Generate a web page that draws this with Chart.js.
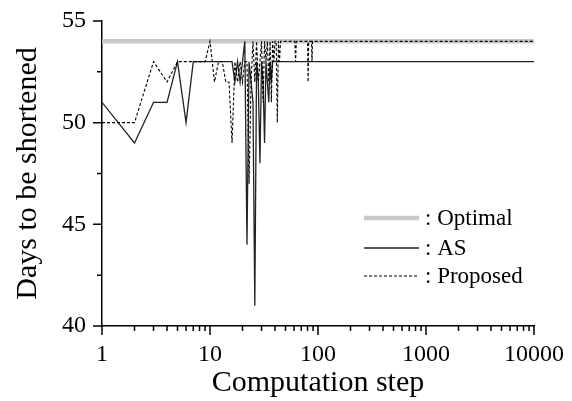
<!DOCTYPE html>
<html>
<head>
<meta charset="utf-8">
<script src="https://cdn.jsdelivr.net/npm/chart.js@4/dist/chart.umd.min.js"></script>
<style>
  html, body { margin: 0; padding: 0; background: #fff; }
  #wrap { width: 572px; height: 401px; }
</style>
</head>
<body>
<div id="wrap"><canvas id="chart"></canvas></div>
<script>
// Computation step (log x) vs days to be shortened
const optSteps = [1, 10000];
const optDays = [54, 54];

const asSteps = [1, 2, 3, 4, 5, 6, 7, 16, 17, 18, 19, 20, 21, 22, 23, 24, 25, 26, 27, 28, 29, 30, 31, 32, 33, 34, 35, 36, 37, 38, 10000];
const asDays  = [51, 49, 51, 51, 53, 50, 53, 53, 52, 53, 52, 53, 54, 44, 53, 52, 51, 41, 53, 52, 48, 53, 52, 49, 53, 52, 51, 53, 52, 53, 53];

const propSteps = [1, 2, 3, 4, 5, 9, 10, 11, 12, 13, 14, 15, 16, 17, 18, 19, 20, 21, 22, 23, 24, 25, 26, 27, 28, 29, 30, 31, 32, 33, 34, 35, 36, 37, 38, 39, 40, 41, 42, 43, 44, 45, 61, 62, 63, 80, 81, 82, 87, 88, 89, 10000];
const propDays  = [50, 50, 53, 52, 53, 53, 54, 52, 53, 53, 52, 52, 49, 53, 52, 53, 52, 53, 53, 47, 52, 54, 52, 54, 52, 53, 54, 51, 54, 53, 54, 52, 54, 51, 54, 53, 54, 54, 50, 54, 53, 54, 54, 53, 54, 54, 52, 54, 54, 53, 54, 54];

const xTicks = [1, 10, 100, 1000, 10000];
const yTicks = [40, 45, 50, 55];
const yMinorTicks = [42.5, 47.5, 52.5];
const legendLabels = [": Optimal", ": AS", ": Proposed"];

const FONT = "'Liberation Serif', 'Times New Roman', serif";

function toPoints(xs, ys) {
    return xs.map((x, i) => ({ x: x, y: ys[i] }));
}

// tick marks drawn outward, majors longer than minors
const tickPlugin = {
    id: "tickMarks",
    afterDraw(chart) {
        const ctx = chart.ctx;
        const xs = chart.scales.x;
        const ys = chart.scales.y;
        const area = chart.chartArea;
        ctx.save();
        ctx.strokeStyle = "#000";
        ctx.lineWidth = 1.5;
        ctx.beginPath();
        yTicks.forEach(v => {
            const py = ys.getPixelForValue(v);
            ctx.moveTo(area.left - 9, py);
            ctx.lineTo(area.left, py);
        });
        yMinorTicks.forEach(v => {
            const py = ys.getPixelForValue(v);
            ctx.moveTo(area.left - 5, py);
            ctx.lineTo(area.left, py);
        });
        xTicks.forEach(v => {
            const px = xs.getPixelForValue(v);
            ctx.moveTo(px, area.bottom);
            ctx.lineTo(px, area.bottom + 9);
        });
        for (let d = 0; d < xTicks.length - 1; d++) {
            for (let k = 2; k <= 9; k++) {
                const px = xs.getPixelForValue(k * xTicks[d]);
                ctx.moveTo(px, area.bottom);
                ctx.lineTo(px, area.bottom + 5);
            }
        }
        ctx.stroke();
        ctx.restore();
    }
};

// legend inside the plot, bottom right
const legendPlugin = {
    id: "insideLegend",
    afterDraw(chart) {
        const ctx = chart.ctx;
        const rows = [218, 248, 276];
        const styles = [
            { color: "#c8c8c8", width: 4.5, dash: [] },
            { color: "#222", width: 1.3, dash: [] },
            { color: "#000", width: 1.1, dash: [3, 2] }
        ];
        ctx.save();
        ctx.font = "23px " + FONT;
        ctx.fillStyle = "#000";
        ctx.textBaseline = "middle";
        rows.forEach((y, i) => {
            ctx.beginPath();
            ctx.strokeStyle = styles[i].color;
            ctx.lineWidth = styles[i].width;
            ctx.setLineDash(styles[i].dash);
            ctx.moveTo(364, y);
            ctx.lineTo(419, y);
            ctx.stroke();
            ctx.setLineDash([]);
            ctx.fillText(legendLabels[i], 425, y + 1);
        });
        ctx.restore();
    }
};

const ctx = document.getElementById("chart").getContext("2d");
new Chart(ctx, {
    type: "line",
    data: {
        datasets: [
            {
                label: "Proposed",
                data: toPoints(propSteps, propDays),
                borderColor: "#000",
                borderWidth: 1.1,
                borderDash: [3, 2],
                pointRadius: 0,
                tension: 0
            },
            {
                label: "AS",
                data: toPoints(asSteps, asDays),
                borderColor: "#222",
                borderWidth: 1.3,
                pointRadius: 0,
                tension: 0
            },
            {
                label: "Optimal",
                data: toPoints(optSteps, optDays),
                borderColor: "#c8c8c8",
                borderWidth: 4.5,
                pointRadius: 0,
                tension: 0
            }
        ]
    },
    options: {
        responsive: true,
        maintainAspectRatio: false,
        animation: false,
        layout: { padding: { top: 21, right: 38, left: 0, bottom: 0 } },
        scales: {
            x: {
                type: "logarithmic",
                min: 1,
                max: 10000,
                afterBuildTicks: scale => { scale.ticks = xTicks.map(v => ({ value: v })); },
                afterFit: scale => {
                    scale.height = 75;
                    scale.paddingLeft = 0;
                    scale.paddingRight = 0;
                },
                grid: { display: false, drawTicks: false },
                border: { display: true, color: "#000", width: 1.5 },
                ticks: {
                    color: "#000",
                    font: { family: FONT, size: 24 },
                    padding: 14,
                    maxRotation: 0,
                    autoSkip: false,
                    callback: v => String(v)
                },
                title: {
                    display: true,
                    text: "Computation step",
                    color: "#000",
                    font: { family: FONT, size: 30 },
                    padding: 0
                }
            },
            y: {
                min: 40,
                max: 55,
                afterBuildTicks: scale => { scale.ticks = yTicks.map(v => ({ value: v })); },
                afterFit: scale => {
                    scale.width = 102;
                    scale.paddingTop = 0;
                    scale.paddingBottom = 0;
                },
                grid: { display: false, drawTicks: false },
                border: { display: true, color: "#000", width: 1.5 },
                ticks: {
                    color: "#000",
                    font: { family: FONT, size: 24 },
                    padding: 16
                },
                title: {
                    display: true,
                    text: "Days to be shortened",
                    color: "#000",
                    font: { family: FONT, size: 30 },
                    padding: { top: 10, bottom: 0 }
                }
            }
        },
        plugins: {
            legend: { display: false },
            tooltip: { enabled: false }
        }
    },
    plugins: [tickPlugin, legendPlugin]
});
</script>
</body>
</html>
